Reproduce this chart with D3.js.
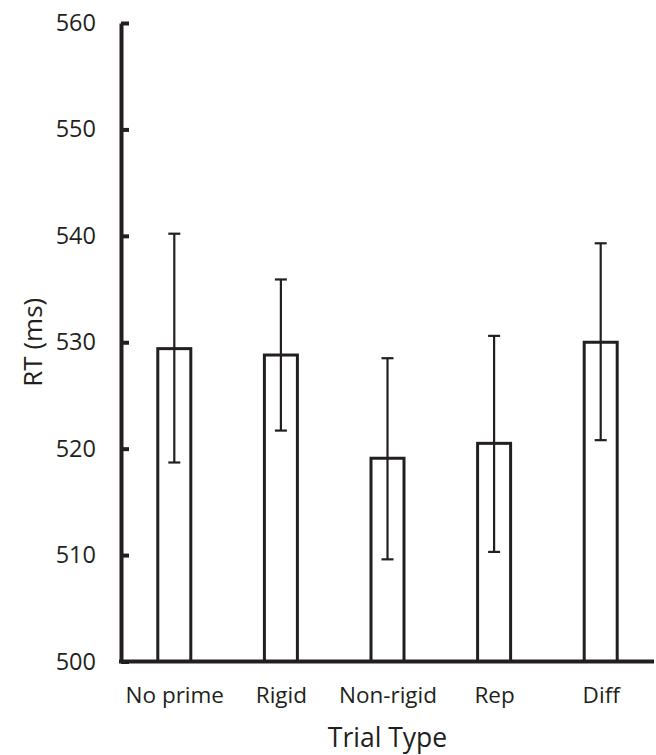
<!DOCTYPE html>
<html>
<head>
<meta charset="utf-8">
<script src="https://cdn.jsdelivr.net/npm/d3@7"></script>
<style>
  body { margin: 0; background: #fff; }
  svg text { font-family: "Open Sans", sans-serif; fill: #231f20; }
</style>
</head>
<body>
<div id="chart"></div>
<script>
const trialTypes = ["No prime", "Rigid", "Non-rigid", "Rep", "Diff"];
const meanRT = [529.4, 528.8, 519.1, 520.5, 530.0];
const errUpper = [540.2, 535.9, 528.5, 530.6, 539.3];
const errLower = [518.7, 521.7, 509.6, 510.3, 520.8];
const yTicks = [500, 510, 520, 530, 540, 550, 560];

const W = 656, H = 755;
const INK = "#231f20";
const X0 = 121, X1 = 654, Y0 = 661.5, Y1 = 23;
const BAR_W = 33, CAP_W = 12;

const rows = trialTypes.map((t, i) => ({type: t, mean: meanRT[i], hi: errUpper[i], lo: errLower[i]}));

const svg = d3.select("#chart").append("svg")
    .attr("width", W)
    .attr("height", H);

const x = d3.scalePoint()
    .domain(trialTypes)
    .range([X0, X1])
    .padding(0.5);

const y = d3.scaleLinear()
    .domain([500, 560])
    .range([Y0, Y1]);

// bars
svg.append("g").selectAll("rect")
   .data(rows)
   .enter()
   .append("rect")
   .attr("x", (d) => x(d.type) - BAR_W/2)
   .attr("y", (d) => y(d.mean))
   .attr("width", BAR_W)
   .attr("height", (d) => y(500) - y(d.mean))
   .attr("fill", "#fff")
   .attr("stroke", INK)
   .attr("stroke-width", 3);

// error bars
var eg = svg.append("g").attr("stroke", INK).attr("stroke-width", 2.2);
eg.selectAll("line.stem")
  .data(rows)
  .enter()
  .append("line")
  .classed("stem", true)
  .attr("x1", (d) => x(d.type))
  .attr("x2", (d) => x(d.type))
  .attr("y1", (d) => y(d.hi))
  .attr("y2", (d) => y(d.lo));
["hi", "lo"].forEach(function(k){
    eg.selectAll("line.cap" + k)
      .data(rows)
      .enter()
      .append("line")
      .classed("cap" + k, true)
      .attr("x1", (d) => x(d.type) - CAP_W/2)
      .attr("x2", (d) => x(d.type) + CAP_W/2)
      .attr("y1", (d) => y(d[k]))
      .attr("y2", (d) => y(d[k]));
});

// y axis, ticks on the inside
var yAxis = svg.append("g")
    .attr("transform", "translate(" + X0 + ",0)")
    .call(d3.axisRight(y).tickValues(yTicks).tickSize(8).tickSizeOuter(0).tickFormat(d3.format("d")));
yAxis.select(".domain").attr("stroke", INK).attr("stroke-width", 4);
yAxis.selectAll(".tick line").attr("stroke", INK).attr("stroke-width", 4);
yAxis.selectAll(".tick text")
     .attr("x", -25)
     .attr("text-anchor", "end")
     .attr("font-size", 23.5)
     .attr("fill", INK);

// x axis
var xAxis = svg.append("g")
    .attr("transform", "translate(0," + Y0 + ")")
    .call(d3.axisBottom(x).tickSize(0).tickSizeOuter(0));
xAxis.select(".domain").attr("stroke", INK).attr("stroke-width", 4)
     .attr("d", "M" + (X0 - 2) + ",0H" + X1);
xAxis.selectAll(".tick text")
     .attr("y", 26)
     .attr("font-size", 22.5)
     .attr("fill", INK);

// titles
svg.append("text")
   .attr("x", (X0 + X1)/2)
   .attr("y", 747)
   .attr("text-anchor", "middle")
   .attr("font-size", 26.5)
   .text("Trial Type");
svg.append("text")
   .attr("transform", "translate(42," + (Y0 + Y1)/2 + ") rotate(-90)")
   .attr("text-anchor", "middle")
   .attr("font-size", 26)
   .text("RT (ms)");
</script>
</body>
</html>
